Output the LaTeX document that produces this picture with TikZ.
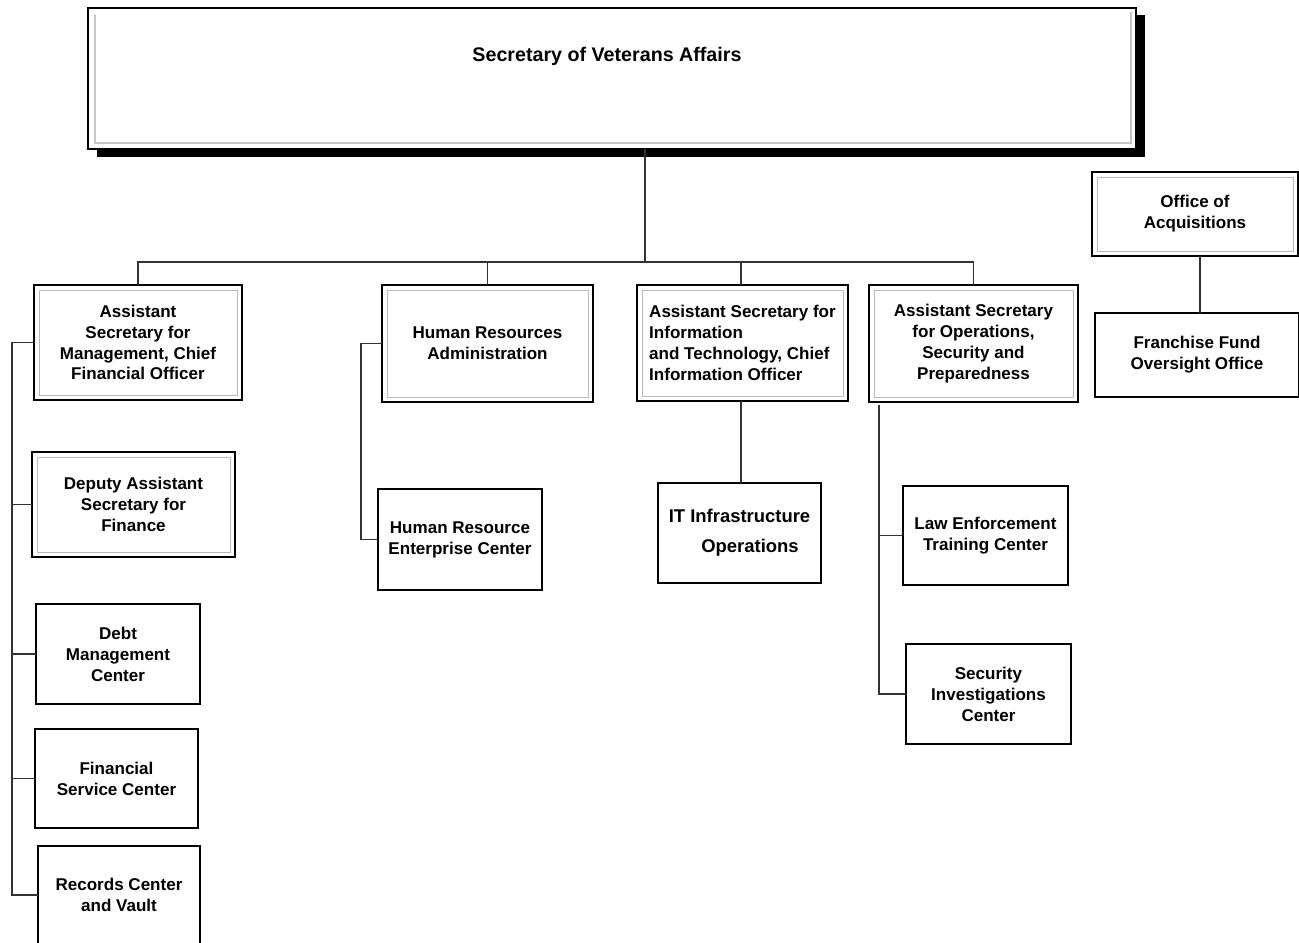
\documentclass[tikz,border=0pt]{standalone}
\usepackage{fontspec}
\setmainfont{Liberation Sans}
\newcommand\PX{0.02cm}
\tikzset{
  bx/.style n args={2}{minimum width=#1*\PX, minimum height=#2*\PX},
  base/.style={inner sep=0pt, outer sep=0pt, fill=white, align=center,
    font=\bfseries\fontsize{9.7}{11.9}\selectfont},
  single/.style={base, draw=black, line width=0.8pt},
  dbl/.style={base, draw=black, line width=1.2pt,
    path picture={\draw[gray!55, line width=0.5pt]
      ([xshift=5*\PX, yshift=-5*\PX]path picture bounding box.north west) rectangle
      ([xshift=-5*\PX, yshift=5*\PX]path picture bounding box.south east);}},
  conn/.style={draw=black!80, line width=0.7pt},
}
\begin{document}
\begin{tikzpicture}[x=0.02cm, y=-0.02cm]
\useasboundingbox (0,0) rectangle (1299,943);
\clip (0,0) rectangle (1299,943);

% top box with shadow
\fill[black] (97,15) rectangle (1145,157);
\node[base, draw=black, line width=1.2pt, bx={1048}{141}] (sec) at (612,78.5) {};
\draw[gray!45, line width=0.6pt] (95,15) -- (95,143) -- (1131,143) -- (1131,12);
\node[font=\bfseries\fontsize{11.2}{13}\selectfont] (sectext) at (607,56) {Secretary of Veterans Affairs};

% second level
\node[dbl, bx={208}{115}] (asm) at (138,342.5) {Assistant\\Secretary for\\Management, Chief\\Financial Officer};
\node[dbl, bx={211}{117}] (hra) at (487.5,343.5) {Human Resources\\Administration};
\node[dbl, bx={211}{116}, align=left] (asit) at (742.5,343) {Assistant Secretary for\\Information\\and Technology, Chief\\Information Officer};
\node[dbl, bx={209}{117}] (asosp) at (973.5,343.5) {Assistant Secretary\\for Operations,\\Security and\\Preparedness};
\node[dbl, bx={206}{84}] (oacq) at (1195,214) {Office of\\Acquisitions};
\node[single, bx={204}{84}] (ffo) at (1197,355) {Franchise Fund\\Oversight Office};

% left column
\node[dbl, bx={203}{105}] (dasf) at (133.5,504.5) {Deputy Assistant\\Secretary for\\Finance};
\node[single, bx={164}{100}] (dmc) at (118,654) {Debt\\Management\\Center};
\node[single, bx={163}{99}] (fsc) at (116.5,778.5) {Financial\\Service Center};
\node[single, bx={162}{98}] (rcv) at (119,895) {Records Center\\and Vault};

% other children
\node[single, bx={164}{101}] (hrec) at (460,539.5) {Human Resource\\Enterprise Center};
\node[single, bx={163}{100}, font=\bfseries\fontsize{10.5}{12}\selectfont] (itio) at (739.5,533) {IT Infrastructure\\[5pt]\hspace*{12pt}Operations};
\node[single, bx={165}{99}] (letc) at (985.5,535.5) {Law Enforcement\\Training Center};
\node[single, bx={165}{100}] (sic) at (988.5,694) {Security\\Investigations\\Center};

% connectors
\coordinate (bus) at (645,262);
\draw[conn] (sec.south -| bus) -- (bus);
\draw[conn] (asm.north) |- (bus) -| (asosp.north);
\draw[conn] (hra.north) -- (hra.north |- bus);
\draw[conn] (asit.north -| 741,0) -- (741,262);

\coordinate (lbx) at (12,0);
\draw[conn] (asm.west) -- (lbx |- asm.west) -- (lbx |- rcv.west) -- (rcv.west);
\draw[conn] (dasf.west) -- (lbx |- dasf.west);
\draw[conn] (dmc.west) -- (lbx |- dmc.west);
\draw[conn] (fsc.west) -- (lbx |- fsc.west);

\coordinate (hrx) at (361,0);
\draw[conn] (hra.west) -- (hrx |- hra.west) -- (hrx |- hrec.west) -- (hrec.west);

\draw[conn] (itio.north -| 741,0) -- (asit.south -| 741,0);

\coordinate (osx) at (879,0);
\draw[conn] (osx |- 0,405) -- (osx |- sic.west) -- (sic.west);
\draw[conn] (letc.west) -- (osx |- letc.west);

\draw[conn] (oacq.south -| 1200,0) -- (ffo.north -| 1200,0);
\end{tikzpicture}
\end{document}
